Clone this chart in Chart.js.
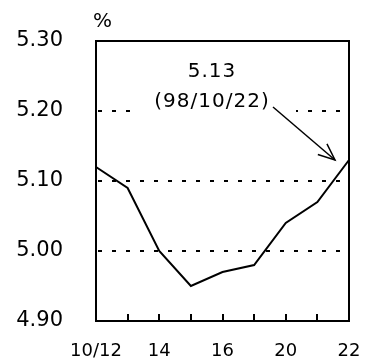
<!DOCTYPE html>
<html>
<head>
<meta charset="utf-8">
<script src="https://cdn.jsdelivr.net/npm/chart.js@4/dist/chart.umd.min.js"></script>
<style>
  html, body { margin: 0; padding: 0; background: #fff; }
  #wrap { width: 374px; height: 358px; position: relative; }
</style>
</head>
<body>
<div id="wrap"><canvas id="myChart" width="374" height="358"></canvas></div>
<script>
// daily yields, Oct 1998 (business days)
const dates = ['10/12', '13', '14', '15', '16', '19', '20', '21', '22'];
const shownDates = ['10/12', '14', '16', '20', '22'];
const yields = [5.12, 5.09, 5.00, 4.95, 4.97, 4.98, 5.04, 5.07, 5.13];
const gridValues = [5.00, 5.10, 5.20];
const noteLines = ['5.13', '(98/10/22)'];

const font = "'DejaVu Sans', 'Liberation Sans', sans-serif";

const framePlugin = {
  id: 'frame',
  afterDraw(chart) {
    const ctx = chart.ctx;
    const a = chart.chartArea;
    const x = chart.scales.x;
    const y = chart.scales.y;
    ctx.save();
    ctx.strokeStyle = '#000';

    // dashed reference lines
    ctx.lineWidth = 2;
    ctx.setLineDash([4, 10]);
    gridValues.forEach(v => {
      const py = Math.round(y.getPixelForValue(v));
      ctx.beginPath();
      ctx.moveTo(a.left + 2, py);
      ctx.lineTo(a.right, py);
      ctx.stroke();
    });
    ctx.setLineDash([]);

    // white gap behind the note
    const noteY = y.getPixelForValue(5.20);
    ctx.fillStyle = '#fff';
    ctx.fillRect(a.left + 36, noteY - 6, 164, 12);

    // frame
    ctx.lineWidth = 2;
    ctx.strokeRect(a.left, a.top, a.right - a.left, a.bottom - a.top);

    // tick marks on the bottom, inward
    for (let i = 1; i < dates.length - 1; i++) {
      const px = Math.round(x.getPixelForValue(i));
      ctx.beginPath();
      ctx.moveTo(px, a.bottom);
      ctx.lineTo(px, a.bottom - 7);
      ctx.stroke();
    }

    // unit
    ctx.fillStyle = '#000';
    ctx.font = '20px ' + font;
    ctx.textAlign = 'left';
    ctx.textBaseline = 'alphabetic';
    ctx.fillText('%', a.left - 3, 27);

    // note and arrow
    ctx.letterSpacing = '1px';
    ctx.textAlign = 'center';
    const cx = 212;
    ctx.fillText(noteLines[0], cx, 77);
    ctx.fillText(noteLines[1], cx, 107);
    ctx.letterSpacing = '0px';

    const last = yields.length - 1;
    const tx = x.getPixelForValue(last) - 14;
    const ty = y.getPixelForValue(yields[last]);
    const sx = 273;
    const sy = 107;
    ctx.lineWidth = 1.5;
    ctx.beginPath();
    ctx.moveTo(sx, sy);
    ctx.lineTo(tx, ty);
    ctx.stroke();
    const ang = Math.atan2(ty - sy, tx - sx);
    ctx.beginPath();
    ctx.moveTo(tx - 18 * Math.cos(ang - 0.4), ty - 18 * Math.sin(ang - 0.4));
    ctx.lineTo(tx, ty);
    ctx.lineTo(tx - 18 * Math.cos(ang + 0.4), ty - 18 * Math.sin(ang + 0.4));
    ctx.stroke();
    ctx.restore();
  }
};

new Chart(document.getElementById('myChart'), {
  type: 'line',
  data: {
    labels: dates,
    datasets: [{
      data: yields,
      borderColor: '#000',
      borderWidth: 2,
      pointRadius: 0,
      tension: 0,
      fill: false
    }]
  },
  options: {
    responsive: false,
    animation: false,
    layout: { padding: { top: 41, right: 25, left: 0, bottom: 0 } },
    plugins: { legend: { display: false }, tooltip: { enabled: false } },
    scales: {
      x: {
        type: 'category',
        offset: false,
        grid: { display: false, drawTicks: false },
        border: { display: false },
        ticks: {
          autoSkip: false,
          maxRotation: 0,
          padding: 20,
          color: '#000',
          font: { family: font, size: 18 },
          callback: function (v, i) {
            const lab = dates[i];
            return shownDates.includes(lab) ? lab : '';
          }
        },
        afterFit(s) {
          s.height = 37;
          s.paddingLeft = 0;
          s.paddingRight = 0;
        }
      },
      y: {
        min: 4.9,
        max: 5.3,
        grid: { display: false, drawTicks: false },
        border: { display: false },
        ticks: {
          stepSize: 0.1,
          padding: 33,
          color: '#000',
          font: { family: font, size: 21 },
          callback: v => v.toFixed(2)
        },
        afterFit(s) {
          s.width = 96;
          s.paddingTop = 0;
          s.paddingBottom = 0;
        }
      }
    }
  },
  plugins: [framePlugin]
});
</script>
</body>
</html>
